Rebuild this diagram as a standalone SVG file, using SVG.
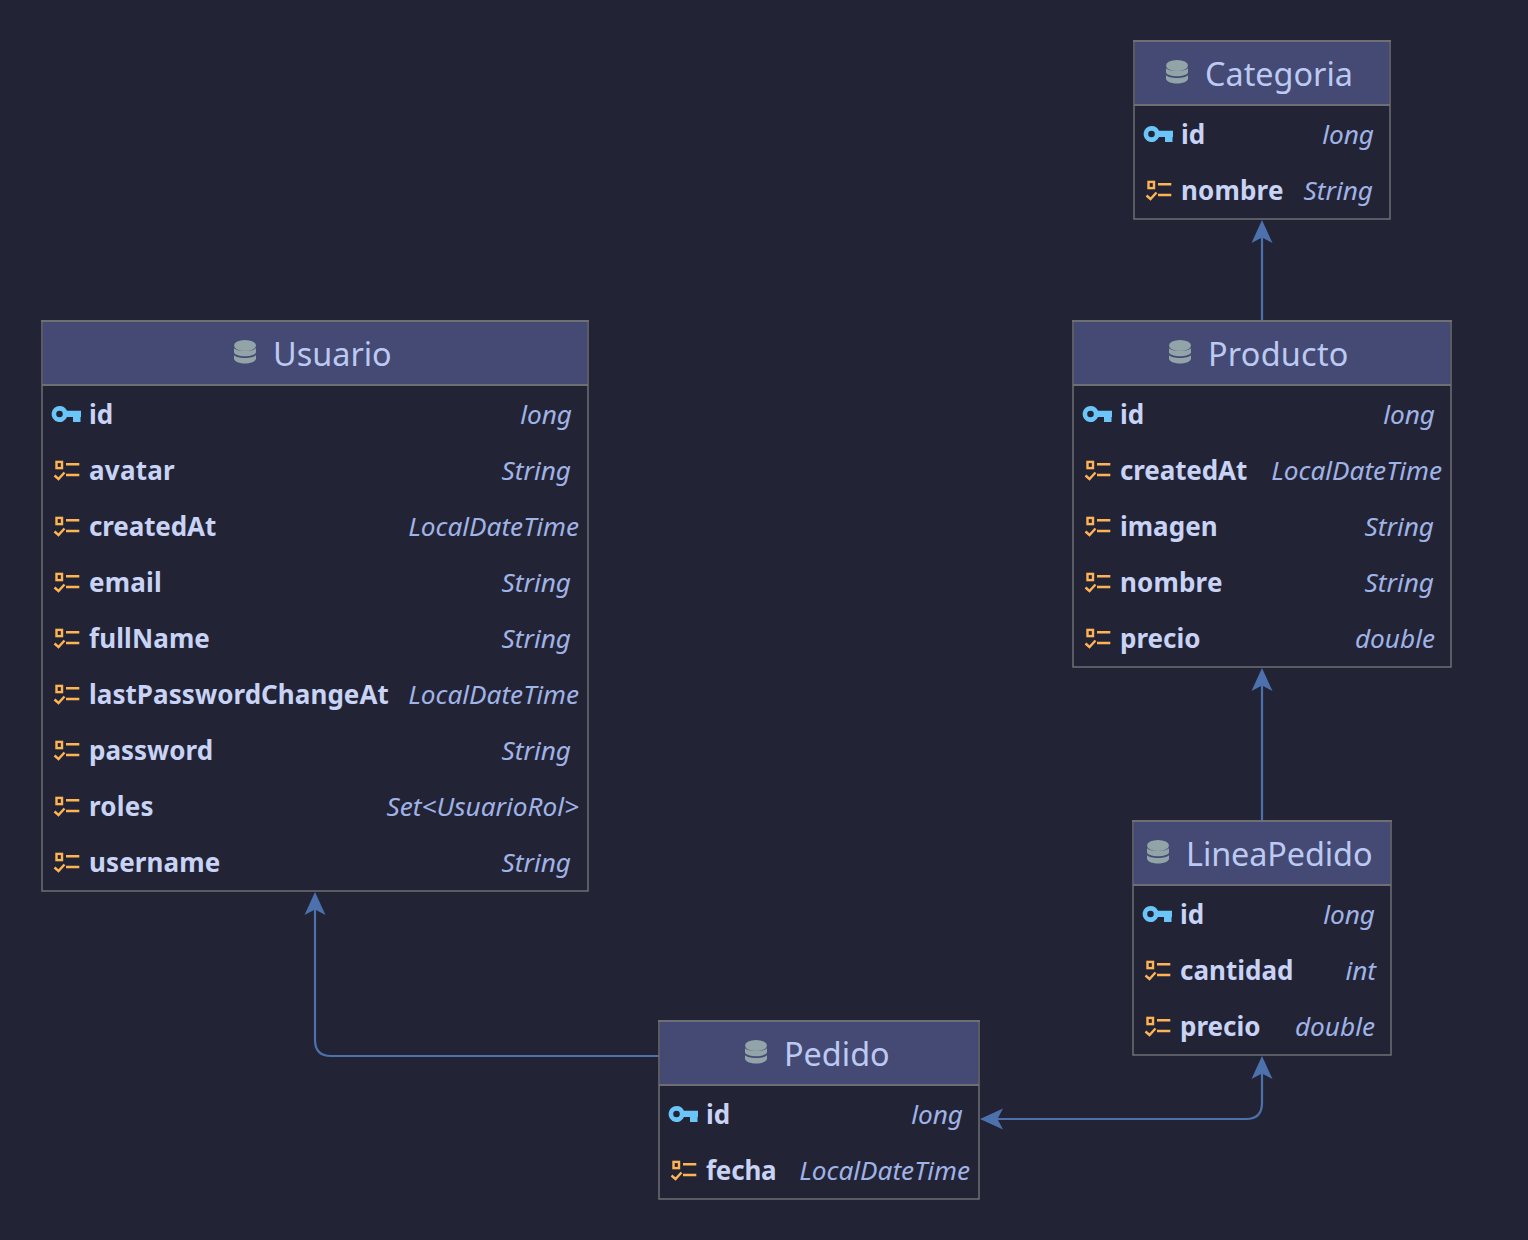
<svg xmlns="http://www.w3.org/2000/svg" width="1528" height="1240" viewBox="0 0 1528 1240">
<style>
text{font-family:"Noto Sans","DejaVu Sans",sans-serif}
.box{fill:#222436;stroke:#6e6e73;stroke-width:1.5}
.head{fill:#444a73}
.sep{stroke:#6e6e73;stroke-width:2}
.title{font-size:32.4px;fill:#bcc9f2}
.f{font-size:26px;font-weight:700;fill:#c8d3f5}
.t{font-size:26.2px;font-style:italic;fill:#a0b3e6;text-anchor:end}
.c{fill:none;stroke:#4c71ac;stroke-width:2.2}
</style>
<defs>
<marker id="arrow" markerUnits="userSpaceOnUse" markerWidth="24" markerHeight="24" refX="13" refY="12" orient="auto-start-reverse" viewBox="0 0 24 24"><path d="M0 1.5 L23 12 L0 22.5 L5.5 12 Z" fill="#4c71ac"/></marker>
<symbol id="db" width="24" height="26" viewBox="0 0 24 26" overflow="visible"><g fill="#93a4a8"><ellipse cx="12" cy="6.5" rx="11" ry="5.5"/><path d="M1 9C3 13 21 13 23 9V13.5C21 18.5 3 18.5 1 13.5Z"/><path d="M1 16C3 20 21 20 23 16V20C21 26 3 26 1 20Z"/></g></symbol>
<symbol id="key" width="32" height="18" viewBox="0 0 32 18" overflow="visible"><path fill="#6bc5f8" fill-rule="evenodd" d="M9.5 1A8 8 0 0 1 17 5.7H31V12H30.5V17H23V12H17A8 8 0 1 1 9.5 1ZM9.5 5.7A3.3 3.3 0 1 0 9.5 12.3A3.3 3.3 0 1 0 9.5 5.7Z"/></symbol>
<symbol id="col" width="28" height="22" viewBox="0 0 28 22" overflow="visible"><g fill="none" stroke="#ffb454" stroke-width="2.4"><rect x="3.5" y="1.9" width="5.5" height="6.2"/><path d="M13 4.3H26.3M13 15H26.3M1.5 15.5L5.5 19L11.5 12.5"/></g></symbol>
</defs>
<rect width="1528" height="1240" fill="#222436"/>
<g id="connectors">
<path class="c" marker-end="url(#arrow)" d="M1262 320V230"/>
<path class="c" marker-end="url(#arrow)" d="M1262 820V678"/>
<path class="c" marker-end="url(#arrow)" d="M659 1056H331Q315 1056 315 1040V902"/>
<path class="c" marker-start="url(#arrow)" marker-end="url(#arrow)" d="M990 1119H1246Q1262 1119 1262 1103V1066"/>
</g>
<g id="categoria">
<rect class="box" x="1134" y="41" width="256" height="178"/><rect class="head" x="1135" y="42" width="254" height="63"/><path class="sep" d="M1133 41H1391M1134 105H1390"/>
<use href="#db" x="1165" y="59"/><text class="title" x="1205" y="86">Categoria</text>
<use href="#key" x="1142" y="125"/><text class="f" x="1181" y="144">id</text><text class="t" x="1374" y="144">long</text>
<use href="#col" x="1145" y="180"/><text class="f" x="1181" y="200" letter-spacing=".17">nombre</text><text class="t" x="1373" y="200">String</text>
</g>
<g id="usuario">
<rect class="box" x="42" y="321" width="546" height="570"/><rect class="head" x="43" y="322" width="544" height="63"/><path class="sep" d="M41 321H589M42 385H588"/>
<use href="#db" x="233" y="339"/><text class="title" x="273" y="366">Usuario</text>
<use href="#key" x="50" y="405"/><text class="f" x="89" y="424">id</text><text class="t" x="572" y="424">long</text>
<use href="#col" x="53" y="460"/><text class="f" x="89" y="480" letter-spacing=".25">avatar</text><text class="t" x="571" y="480">String</text>
<use href="#col" x="53" y="516"/><text class="f" x="89" y="536" letter-spacing="-.11">createdAt</text><text class="t" x="579" y="536">LocalDateTime</text>
<use href="#col" x="53" y="572"/><text class="f" x="89" y="592" letter-spacing=".2">email</text><text class="t" x="571" y="592">String</text>
<use href="#col" x="53" y="628"/><text class="f" x="89" y="648" letter-spacing=".12">fullName</text><text class="t" x="571" y="648">String</text>
<use href="#col" x="53" y="684"/><text class="f" x="89" y="704" letter-spacing=".05">lastPasswordChangeAt</text><text class="t" x="579" y="704">LocalDateTime</text>
<use href="#col" x="53" y="740"/><text class="f" x="89" y="760">password</text><text class="t" x="571" y="760">String</text>
<use href="#col" x="53" y="796"/><text class="f" x="89" y="816" letter-spacing=".2">roles</text><text class="t" x="579" y="816">Set&lt;UsuarioRol&gt;</text>
<use href="#col" x="53" y="852"/><text class="f" x="89" y="872" letter-spacing=".12">username</text><text class="t" x="571" y="872">String</text>
</g>
<g id="producto">
<rect class="box" x="1073" y="321" width="378" height="346"/><rect class="head" x="1074" y="322" width="376" height="63"/><path class="sep" d="M1072 321H1452M1073 385H1451"/>
<use href="#db" x="1168" y="339"/><text class="title" x="1208" y="366" letter-spacing=".25">Producto</text>
<use href="#key" x="1081" y="405"/><text class="f" x="1120" y="424">id</text><text class="t" x="1435" y="424">long</text>
<use href="#col" x="1084" y="460"/><text class="f" x="1120" y="480" letter-spacing="-.11">createdAt</text><text class="t" x="1442" y="480">LocalDateTime</text>
<use href="#col" x="1084" y="516"/><text class="f" x="1120" y="536">imagen</text><text class="t" x="1434" y="536">String</text>
<use href="#col" x="1084" y="572"/><text class="f" x="1120" y="592" letter-spacing=".17">nombre</text><text class="t" x="1434" y="592">String</text>
<use href="#col" x="1084" y="628"/><text class="f" x="1120" y="648">precio</text><text class="t" x="1435" y="648">double</text>
</g>
<g id="lineapedido">
<rect class="box" x="1133" y="821" width="258" height="234"/><rect class="head" x="1134" y="822" width="256" height="63"/><path class="sep" d="M1132 821H1392M1133 885H1391"/>
<use href="#db" x="1146" y="839"/><text class="title" x="1186" y="866" letter-spacing="-.09">LineaPedido</text>
<use href="#key" x="1141" y="905"/><text class="f" x="1180" y="924">id</text><text class="t" x="1375" y="924">long</text>
<use href="#col" x="1144" y="960"/><text class="f" x="1180" y="980">cantidad</text><text class="t" x="1376" y="980">int</text>
<use href="#col" x="1144" y="1016"/><text class="f" x="1180" y="1036">precio</text><text class="t" x="1375" y="1036">double</text>
</g>
<g id="pedido">
<rect class="box" x="659" y="1021" width="320" height="178"/><rect class="head" x="660" y="1022" width="318" height="63"/><path class="sep" d="M658 1021H980M659 1085H979"/>
<use href="#db" x="744" y="1039"/><text class="title" x="784" y="1066">Pedido</text>
<use href="#key" x="667" y="1105"/><text class="f" x="706" y="1124">id</text><text class="t" x="963" y="1124">long</text>
<use href="#col" x="670" y="1160"/><text class="f" x="706" y="1180" letter-spacing="-.2">fecha</text><text class="t" x="970" y="1180">LocalDateTime</text>
</g>
</svg>
